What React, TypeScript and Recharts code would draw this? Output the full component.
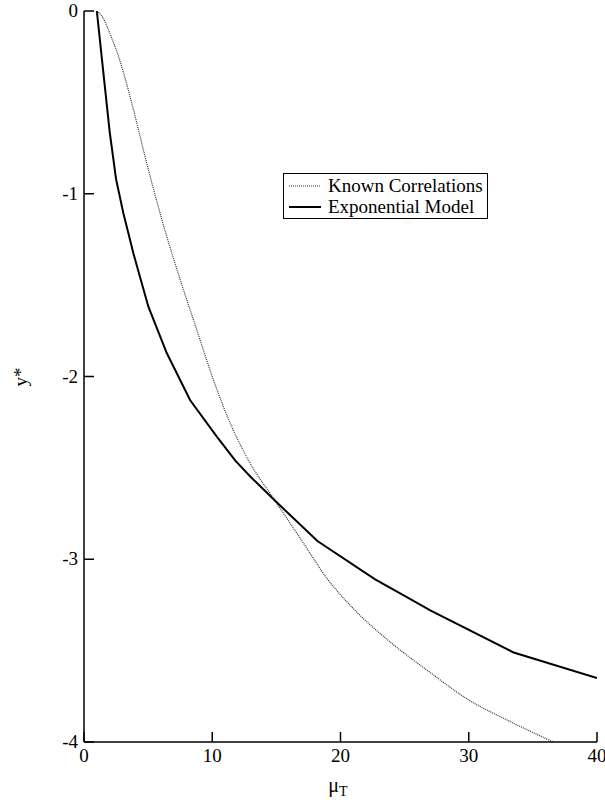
import React from "react";
import { LineChart, Line, XAxis, YAxis, Legend } from "recharts";

const xTicks = [0, 10, 20, 30, 40];
const yTicks = [0, -1, -2, -3, -4];

const knownX = [1, 1.5, 2, 2.7, 3.33, 4, 4.7, 5.4, 6.46, 7.5, 8.8, 10.1, 11.4, 12.84, 14.9, 17, 19, 21, 24, 27, 30, 33, 36.6];
const knownY = [0, -0.04, -0.12, -0.25, -0.4, -0.58, -0.78, -0.97, -1.235, -1.47, -1.746, -2.02, -2.256, -2.46, -2.68, -2.9, -3.11, -3.27, -3.46, -3.62, -3.77, -3.88, -4.0];

const expX = [1, 1.5, 2, 2.5, 3.07, 3.85, 5.02, 6.46, 8.28, 10.37, 11.8, 13, 14.9, 18.2, 22.7, 25, 27, 33.5, 40];
const expY = [0, -0.33, -0.66, -0.92, -1.107, -1.326, -1.618, -1.873, -2.13, -2.33, -2.46, -2.55, -2.68, -2.9, -3.11, -3.2, -3.28, -3.51, -3.65];

const knownData = knownX.map((x, i) => ({ x, y: knownY[i] }));
const expData = expX.map((x, i) => ({ x, y: expY[i] }));

const FONT = "'Liberation Serif', 'Times New Roman', serif";
const TL = 10;
const txtStyle = { fontFamily: FONT };

const BottomTick = (props: any) => {
  const { x, y, payload } = props;
  return (
    <g>
      <line x1={x} y1={y} x2={x} y2={y - TL} stroke="#000" strokeWidth={1.5} />
      <text x={x} y={y + 20} textAnchor="middle" style={txtStyle} fontSize={19} fill="#000">
        {String(payload.value)}
      </text>
    </g>
  );
};

const TopTick = (props: any) => {
  const { x, y } = props;
  return <line x1={x} y1={y} x2={x} y2={y + TL} stroke="#000" strokeWidth={1.5} />;
};

const LeftTick = (props: any) => {
  const { x, y, payload } = props;
  return (
    <g>
      <line x1={x} y1={y} x2={x + TL} y2={y} stroke="#000" strokeWidth={1.5} />
      <text x={x - 6} y={y + 6} textAnchor="end" style={txtStyle} fontSize={19} fill="#000">
        {String(payload.value)}
      </text>
    </g>
  );
};

const RightTick = (props: any) => {
  const { x, y } = props;
  return <line x1={x} y1={y} x2={x - TL} y2={y} stroke="#000" strokeWidth={1.5} />;
};

const LegendBox = () => (
  <div
    style={{
      border: "1.5px solid #000",
      background: "#fff",
      padding: "1px 4px 1px 4px",
      fontFamily: FONT,
      fontSize: 19,
      lineHeight: "21px",
      color: "#000",
      whiteSpace: "nowrap",
    }}
  >
    <div style={{ display: "flex", alignItems: "center" }}>
      <svg width={34} height={10} style={{ marginRight: 6 }}>
        <line x1={1} y1={5} x2={33} y2={5} stroke="#333" strokeWidth={1.2} strokeDasharray="1 1" />
      </svg>
      <span>Known Correlations</span>
    </div>
    <div style={{ display: "flex", alignItems: "center" }}>
      <svg width={34} height={10} style={{ marginRight: 6 }}>
        <line x1={1} y1={5} x2={33} y2={5} stroke="#000" strokeWidth={2} />
      </svg>
      <span>Exponential Model</span>
    </div>
  </div>
);

export default function App() {
  return (
    <div style={{ position: "absolute", left: 0, top: 0, width: 605, height: 802, background: "#fff" }}>
      <LineChart width={605} height={802} margin={{ top: 11, right: 8, bottom: 10, left: 0 }}>
        <XAxis
          xAxisId="b"
          type="number"
          dataKey="x"
          domain={[0, 40]}
          ticks={xTicks}
          interval={0}
          height={50}
          tickSize={0}
          tickMargin={0}
          axisLine={{ stroke: "#000", strokeWidth: 1.5 }}
          tickLine={false}
          tick={<BottomTick />}
          allowDataOverflow
        />
        <XAxis
          xAxisId="t"
          orientation="top"
          type="number"
          dataKey="x"
          domain={[0, 40]}
          ticks={xTicks}
          interval={0}
          height={0}
          tickSize={0}
          tickMargin={0}
          axisLine={{ stroke: "#000", strokeWidth: 1.5 }}
          tickLine={false}
          tick={<TopTick />}
          allowDataOverflow
        />
        <YAxis
          yAxisId="l"
          type="number"
          domain={[-4, 0]}
          ticks={yTicks}
          interval={0}
          width={84}
          tickSize={0}
          tickMargin={0}
          axisLine={{ stroke: "#000", strokeWidth: 1.5 }}
          tickLine={false}
          tick={<LeftTick />}
          allowDataOverflow
        />
        <YAxis
          yAxisId="r"
          orientation="right"
          type="number"
          domain={[-4, 0]}
          ticks={yTicks}
          interval={0}
          width={0}
          tickSize={0}
          tickMargin={0}
          axisLine={{ stroke: "#000", strokeWidth: 1.5 }}
          tickLine={false}
          tick={<RightTick />}
          allowDataOverflow
        />
        <Legend
          content={<LegendBox />}
          layout="vertical"
          verticalAlign="middle"
          align="center"
          wrapperStyle={{ left: 283, top: 173, width: "auto", height: "auto" }}
        />
        <Line
          xAxisId="b"
          yAxisId="l"
          data={knownData}
          dataKey="y"
          type="monotone"
          stroke="#333"
          strokeWidth={1.2}
          strokeDasharray="1 1"
          dot={false}
          isAnimationActive={false}
          name="Known Correlations"
        />
        <Line
          xAxisId="b"
          yAxisId="l"
          data={expData}
          dataKey="y"
          type="linear"
          stroke="#000"
          strokeWidth={2}
          dot={false}
          isAnimationActive={false}
          name="Exponential Model"
        />
        <text x={20} y={377} transform="rotate(-90 20 377)" textAnchor="middle" dominantBaseline="central" style={txtStyle} fontSize={19} fill="#000">
          y*
        </text>
        <text x={338} y={792} textAnchor="middle" style={txtStyle} fontSize={20} fill="#000">
          μ<tspan dy={4} fontSize={14}>T</tspan>
        </text>
      </LineChart>
    </div>
  );
}
